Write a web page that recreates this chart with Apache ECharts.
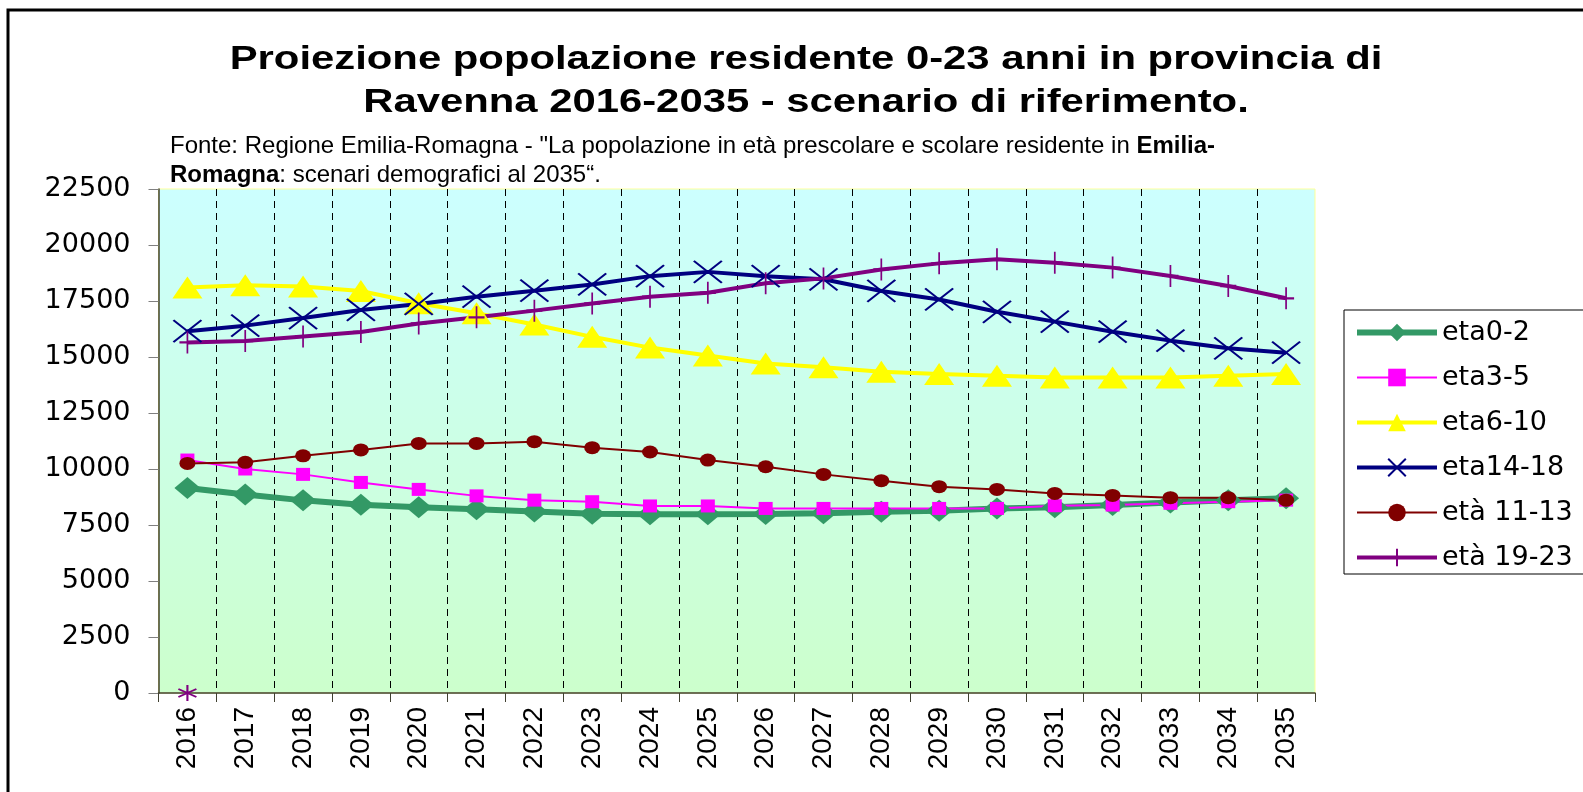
<!DOCTYPE html>
<html><head><meta charset="utf-8">
<script src="https://cdn.jsdelivr.net/npm/echarts@6/dist/echarts.min.js"></script>
<style>html,body{margin:0;padding:0;background:#fff;overflow:hidden;} #c{width:1583px;height:792px;}</style>
</head><body><div id="c"></div>
<script>
// ---- data ----
const years = ['2016','2017','2018','2019','2020','2021','2022','2023','2024','2025','2026','2027','2028','2029','2030','2031','2032','2033','2034','2035'];
const eta0_2   = [9150, 8860, 8600, 8400, 8290, 8200, 8100, 8000, 7980, 7980, 7990, 8020, 8090, 8140, 8240, 8290, 8390, 8500, 8610, 8690];
const eta3_5   = [10400, 10000, 9760, 9400, 9090, 8800, 8610, 8540, 8350, 8350, 8240, 8240, 8240, 8240, 8240, 8360, 8390, 8470, 8540, 8610];
const eta6_10  = [18100, 18200, 18150, 17950, 17400, 16950, 16450, 15900, 15420, 15070, 14710, 14540, 14340, 14240, 14160, 14080, 14080, 14080, 14160, 14240];
const eta14_18 = [16150, 16400, 16740, 17100, 17370, 17690, 17960, 18240, 18610, 18800, 18610, 18470, 17950, 17570, 17020, 16580, 16130, 15730, 15390, 15190];
const eta11_13 = [10250, 10300, 10590, 10850, 11140, 11140, 11220, 10950, 10760, 10400, 10100, 9760, 9480, 9210, 9090, 8910, 8820, 8720, 8720, 8610];
const eta19_23 = [15650, 15710, 15920, 16120, 16500, 16770, 17070, 17390, 17690, 17870, 18290, 18510, 18910, 19180, 19360, 19210, 18990, 18620, 18170, 17620];
const strayMarker = [0, null, null, null, null, null, null, null, null, null, null, null, null, null, null, null, null, null, null, null];
const seriesNames = ['eta0-2', 'eta3-5', 'eta6-10', 'eta14-18', 'età 11-13', 'età 19-23'];
const yTicks = {min: 0, max: 22500, interval: 2500};
const titleText = 'Proiezione popolazione residente 0-23 anni in provincia di\nRavenna 2016-2035 - scenario di riferimento.';
const subtitleText = 'Fonte: Regione Emilia-Romagna - "La popolazione in età prescolare e scolare residente in {b|Emilia-}\n{b|Romagna}: scenari demografici al 2035“.';

// ---- chart ----
const ARIAL = 'Arial, "Liberation Sans", sans-serif';
const DEJAVU = '"DejaVu Sans", sans-serif';
const X_PATH = 'path://M0,0L20,20M20,0L0,20';
const PLUS_PATH = 'path://M10,0L10,20M0,10L20,10';
const AST_PATH = 'path://M10,0L10,20M1,5L19,15M1,15L19,5';

function lineSeries(name, data, color, width, symbol, size, stroked) {
  return {
    name: name, type: 'line', data: data, symbol: symbol, symbolSize: size,
    showAllSymbol: true, smooth: false,
    lineStyle: {color: color, width: width},
    itemStyle: stroked ? {color: color, borderColor: color, borderWidth: 2} : {color: color, borderWidth: 0},
    emphasis: {disabled: true}
  };
}

const chart = echarts.init(document.getElementById('c'));
chart.setOption({
  animation: false,
  backgroundColor: '#ffffff',
  graphic: [
    {type: 'rect', z: -10, shape: {x: 8, y: 10, width: 2000, height: 2000}, style: {fill: 'none', stroke: '#000', lineWidth: 3}},
    {type: 'text', x: 806, y: 81, scaleX: 1.23,
     style: {text: titleText, align: 'center', verticalAlign: 'middle', fontSize: 34, fontWeight: 'bold', fontFamily: ARIAL, lineHeight: 43, fill: '#000'}},
    {type: 'text', x: 170, y: 161,
     style: {text: subtitleText, align: 'left', verticalAlign: 'middle', fontSize: 24, fontFamily: ARIAL, lineHeight: 29, fill: '#000',
             rich: {b: {fontSize: 24, fontFamily: ARIAL, fontWeight: 'bold', lineHeight: 29, fill: '#000'}}}}
  ],
  grid: {
    left: 158.5, right: 268, top: 189, bottom: 99, containLabel: false, show: true,
    borderColor: '#ffff99', borderWidth: 1,
    backgroundColor: {type: 'linear', x: 0, y: 0, x2: 0, y2: 1, colorStops: [{offset: 0, color: '#ccffff'}, {offset: 1, color: '#ccffcc'}]}
  },
  legend: {
    data: seriesNames, orient: 'vertical', left: 1344, top: 310,
    itemWidth: 80, itemHeight: 22, itemGap: 18,
    padding: [9, 300, 3, 10],
    borderColor: '#000', borderWidth: 1, backgroundColor: '#fff',
    lineStyle: {width: 'inherit'},
    textStyle: {fontSize: 27, fontFamily: DEJAVU, color: '#000'}
  },
  xAxis: {
    type: 'category', data: years, boundaryGap: true,
    axisLine: {show: true, lineStyle: {color: '#404030', width: 1.5}},
    axisTick: {show: true, interval: 0, length: 9, lineStyle: {color: '#404030'}},
    axisLabel: {interval: 0, rotate: 90, fontSize: 28, fontFamily: ARIAL, color: '#000', margin: 14},
    splitLine: {show: true, interval: 0, showMinLine: false, showMaxLine: false, lineStyle: {color: '#000', width: 1, type: [7, 5]}}
  },
  yAxis: {
    type: 'value', min: yTicks.min, max: yTicks.max, interval: yTicks.interval,
    axisLine: {show: true, lineStyle: {color: '#404030', width: 1.5}},
    axisTick: {show: true, length: 10, lineStyle: {color: '#808080'}},
    axisLabel: {fontSize: 27, fontFamily: DEJAVU, color: '#000', margin: 28, formatter: function (v) { return String(v); }},
    splitLine: {show: false}
  },
  series: [
    lineSeries(seriesNames[0], eta0_2, '#339966', 6, 'diamond', [26, 22], false),
    lineSeries(seriesNames[1], eta3_5, '#ff00ff', 2, 'rect', [14, 13], false),
    lineSeries(seriesNames[2], eta6_10, '#ffff00', 4, 'triangle', [30, 22], false),
    lineSeries(seriesNames[3], eta14_18, '#000080', 4, X_PATH, [28, 22], true),
    lineSeries(seriesNames[4], eta11_13, '#800000', 2, 'circle', [16, 13], false),
    lineSeries(seriesNames[5], eta19_23, '#800080', 4, PLUS_PATH, [16, 22], true),
    Object.assign(lineSeries('serie7', strayMarker, '#800080', 0, AST_PATH, [18, 16], true), {lineStyle: {width: 0, opacity: 0}})
  ]
});
</script></body></html>
